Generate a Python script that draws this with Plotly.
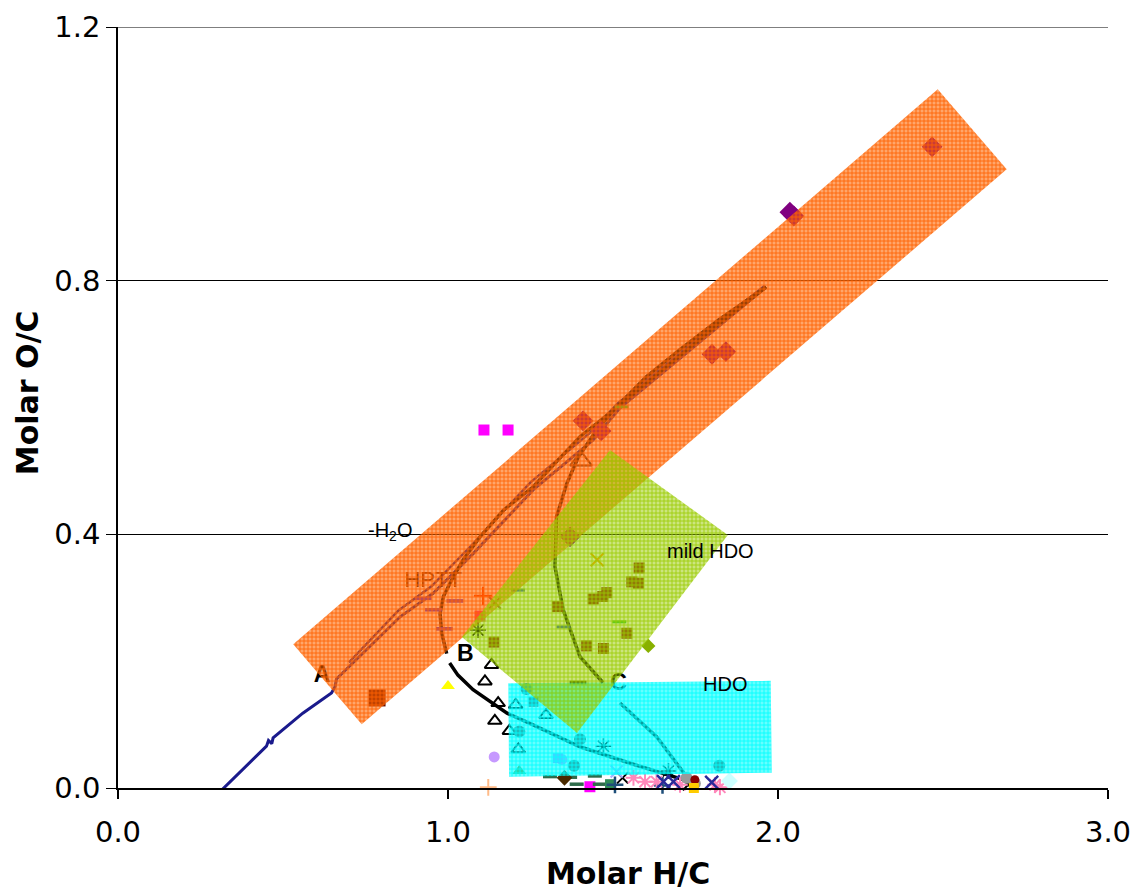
import plotly.graph_objects as go

# ---------------- regions (data coordinates) ----------------
orange_x = [0.531, 2.484, 2.693, 0.7385, 0.531]
orange_y = [0.2266, 1.1017, 0.9756, 0.1004, 0.2266]
green_x = [1.042, 1.491, 1.848, 1.391, 1.042]
green_y = [0.238, 0.533, 0.399, 0.0867, 0.238]
cyan_x = [1.183, 1.978, 1.981, 1.185, 1.183]
cyan_y = [0.165, 0.169, 0.0241, 0.0178, 0.165]

# ---------------- reaction paths ----------------
pathA_x = [0.299, 0.380, 0.450, 0.456, 0.466, 0.470, 0.560, 0.647, 0.658, 0.662, 0.760, 0.855,
           0.955, 1.077, 1.258, 1.440, 1.521, 1.663, 1.814, 1.964]
pathA_y = [-0.011, 0.031, 0.066, 0.075, 0.070, 0.079, 0.118, 0.150, 0.160, 0.172, 0.222, 0.270,
           0.307, 0.370, 0.470, 0.549, 0.599, 0.660, 0.725, 0.790]
pathA2_x = [0.700, 0.850, 0.950, 1.070, 1.250, 1.430, 1.515, 1.660, 1.810, 1.960]
pathA2_y = [0.198, 0.280, 0.318, 0.382, 0.482, 0.560, 0.607, 0.667, 0.731, 0.792]

pathB_x = [0.996, 0.981, 0.976, 0.986, 1.011, 1.046, 1.097, 1.168, 1.258, 1.400, 1.511, 1.663, 1.814, 1.964]
pathB_y = [0.212, 0.244, 0.275, 0.302, 0.328, 0.360, 0.396, 0.438, 0.475, 0.554, 0.600, 0.664, 0.729, 0.790]

pathC_x = [1.470, 1.400, 1.349, 1.324, 1.329, 1.360, 1.395, 1.450, 1.511, 1.600, 1.700, 1.820, 1.964]
pathC_y = [0.166, 0.207, 0.281, 0.349, 0.428, 0.480, 0.522, 0.564, 0.601, 0.648, 0.690, 0.738, 0.790]

pathBdown_x = [1.005, 1.030, 1.076, 1.179, 1.248, 1.400, 1.552, 1.673, 1.733]
pathBdown_y = [0.197, 0.178, 0.155, 0.118, 0.102, 0.065, 0.039, 0.020, 0.010]

pathCdown_x = [1.521, 1.632, 1.723]
pathCdown_y = [0.134, 0.081, 0.018]

# ---------------- data points ----------------
diam_x = [2.467, 1.800, 1.842, 1.409, 1.464, 2.036, 2.048, 1.370]
diam_y = [1.011, 0.684, 0.688, 0.579, 0.563, 0.908, 0.902, 0.396]

sq_x = [1.579, 1.557, 1.577, 1.481, 1.469, 1.440, 1.332, 1.542, 1.420, 1.471, 1.139]
sq_y = [0.347, 0.325, 0.323, 0.308, 0.302, 0.298, 0.286, 0.244, 0.224, 0.220, 0.230]
bigsq_x = [0.785]
bigsq_y = [0.142]

mag_x = [1.109, 1.182, 1.430]
mag_y = [0.5645, 0.5645, 0.002]

tri_x = [1.132, 1.112, 1.152, 1.142, 1.186, 1.205, 1.297, 1.213]
tri_y = [0.194, 0.168, 0.134, 0.106, 0.090, 0.131, 0.115, 0.061]
bigtri_x = [1.403]
bigtri_y = [0.516]

yel_x = [1.000]
yel_y = [0.161]

grayc_x = [1.216, 1.400, 1.382, 1.822, 1.238]
grayc_y = [0.089, 0.077, 0.035, 0.035, 0.156]
graysq_x = [1.259]
graysq_y = [0.136]

olivetri_x = [1.216]
olivetri_y = [0.027]

ast_x = [1.471, 1.668, 1.091]
ast_y = [0.066, 0.027, 0.249]

orx_x = [1.452]
orx_y = [0.360]
redplus_x = [1.106]
redplus_y = [0.303]
brx_x = [1.142]
brx_y = [0.292]
pinksq_x = [1.097]
pinksq_y = [0.271]

purdash_x = [1.021, 0.956, 0.989, 0.925]
purdash_y = [0.295, 0.281, 0.251, 0.299]
bluedash_x = [1.350, 1.212]
bluedash_y = [0.254, 0.312]
grdash_x = [1.519, 1.526]
grdash_y = [0.262, 0.601]
grdiam_x = [1.607]
grdiam_y = [0.224]
dkdash_x = [1.394]
dkdash_y = [0.166]

botdash_x = [1.309, 1.370, 1.390, 1.460, 1.445]
botdash_y = [0.018, 0.017, 0.006, 0.006, 0.019]
brdiam_x = [1.353]
brdiam_y = [0.016]
seasq_x = [1.491]
seasq_y = [0.006]
navyplus_x = [1.506, 1.650]
navyplus_y = [0.005, 0.004]
blkx_x = [1.529, 1.728]
blkx_y = [0.016, 0.005]
pinkast_x = [1.562, 1.597, 1.632, 1.703, 1.824, 1.809]
pinkast_y = [0.016, 0.010, 0.010, 0.005, 0.001, 0.005]
navyx_x = [1.653, 1.683, 1.799]
navyx_y = [0.010, 0.010, 0.009]
lavx_x = [1.511]
lavx_y = [0.026]
grc_x = [1.723, 1.748]
grc_y = [0.016, 0.007]
redc_x = [1.748]
redc_y = [0.013]
goldsq_x = [1.745]
goldsq_y = [0.000]
lcdiam_x = [1.853]
lcdiam_y = [0.011]
peach_x = [1.122]
peach_y = [0.001]
lavc_x = [1.140, 1.345]
lavc_y = [0.049, 0.045]
lavsq_x = [1.333]
lavsq_y = [0.047]

# ---------------- labels ----------------
label_A = (0.618, 0.177)
label_C = (1.517, 0.164)
label_HPTT = (0.955, 0.325)

fig = go.Figure()

def line(x, y, color, w):
    fig.add_trace(go.Scatter(x=x, y=y, mode="lines", line=dict(color=color, width=w),
                             hoverinfo="skip", showlegend=False))

def pts(x, y, symbol, color, size, lw=0, lc=None):
    fig.add_trace(go.Scatter(x=x, y=y, mode="markers",
                             marker=dict(symbol=symbol, color=color, size=size,
                                         line=dict(width=lw, color=lc if lc else color)),
                             cliponaxis=False, hoverinfo="skip", showlegend=False))

def txt(pos, s, color, size):
    fig.add_trace(go.Scatter(x=[pos[0]], y=[pos[1]], mode="text", text=[s],
                             textfont=dict(family="Liberation Sans", size=size, color=color),
                             cliponaxis=False, hoverinfo="skip", showlegend=False))

line(pathA_x, pathA_y, "#1a1a8c", 3)
line(pathA2_x, pathA2_y, "#1a1a8c", 2.5)
line(pathB_x, pathB_y, "#111111", 3.5)
line(pathC_x, pathC_y, "#111111", 3.5)
line(pathBdown_x, pathBdown_y, "#000000", 3.5)
line(pathCdown_x, pathCdown_y, "#111111", 3.5)

pts(diam_x, diam_y, "diamond", "#800080", 16)
pts(sq_x, sq_y, "square", "#8a2a10", 11)
pts(bigsq_x, bigsq_y, "square", "#6a1000", 17)
pts(mag_x, mag_y, "square", "#ff00ff", 11)
pts(tri_x, tri_y, "triangle-up-open", "#000000", 12, 2)
pts(bigtri_x, bigtri_y, "triangle-up-open", "#3a2a20", 19, 2)
pts(yel_x, yel_y, "triangle-up", "#ffff00", 12)
pts(grayc_x, grayc_y, "circle", "#4a5a5a", 12)
pts(graysq_x, graysq_y, "square", "#4a5a5a", 10)
pts(olivetri_x, olivetri_y, "triangle-up", "#669933", 12)
pts(ast_x, ast_y, "asterisk-open", "#000000", 13, 1.5)
pts(orx_x, orx_y, "x-thin-open", "#ff9900", 13, 2)
pts(redplus_x, redplus_y, "cross-thin-open", "#ff3300", 13, 2)
pts(brx_x, brx_y, "x-thin-open", "#8a5a3a", 12, 2)
pts(pinksq_x, pinksq_y, "square", "#ff2a80", 11)
pts(purdash_x, purdash_y, "line-ew-open", "#5a2ad0", 12, 3.5)
pts(bluedash_x, bluedash_y, "line-ew-open", "#3366aa", 10, 3)
pts(grdash_x, grdash_y, "line-ew-open", "#33cc33", 10, 3)
pts(grdiam_x, grdiam_y, "diamond", "#88b000", 11)
pts(dkdash_x, dkdash_y, "line-ew-open", "#333300", 12, 4)
pts(botdash_x, botdash_y, "line-ew-open", "#2e6b4a", 10, 3.5)
pts(brdiam_x, brdiam_y, "diamond", "#4a2a00", 12)
pts(seasq_x, seasq_y, "square", "#2e8b57", 10)
pts(navyplus_x, navyplus_y, "cross-thin-open", "#1f4f7a", 12, 2.5)
pts(blkx_x, blkx_y, "x-thin-open", "#000000", 11, 2)
pts(pinkast_x, pinkast_y, "asterisk-open", "#ff88bb", 13, 2)
pts(navyx_x, navyx_y, "x-thin-open", "#2a2a99", 13, 2.5)
pts(lavx_x, lavx_y, "x-thin-open", "#aab0ff", 12, 2)
pts(grc_x, grc_y, "circle", "#999999", 12)
pts(redc_x, redc_y, "circle", "#8b0000", 9)
pts(goldsq_x, goldsq_y, "square", "#ffcc00", 10)
pts(lcdiam_x, lcdiam_y, "diamond", "#ccffff", 13)
pts(peach_x, peach_y, "cross-thin-open", "#ffbb88", 12, 2)
pts(lavc_x, lavc_y, "circle", "#c699ff", 11)
pts(lavsq_x, lavsq_y, "square", "#9999ff", 10)

# labels drawn under the shaded regions
txt(label_A, "<b>A</b>", "#000000", 23)
txt(label_C, "<b>C</b>", "#000000", 23)
txt(label_HPTT, "HPTT", "#3a1000", 22)

def region(x, y, fg, bg):
    fig.add_trace(go.Scatter(x=x, y=y, mode="lines", fill="toself",
                             line=dict(width=0, color=bg), fillcolor=bg,
                             fillpattern=dict(shape="+", size=4, solidity=0.4,
                                              fgcolor=fg, bgcolor=bg, fillmode="replace"),
                             hoverinfo="skip", showlegend=False))

region(orange_x, orange_y, "rgba(255,95,0,0.95)", "rgba(255,102,0,0.58)")
region(cyan_x, cyan_y, "rgba(0,255,255,0.95)", "rgba(0,255,255,0.6)")
region(green_x, green_y, "rgba(153,204,0,0.9)", "rgba(153,204,0,0.5)")

fig.add_shape(type="line", xref="paper", yref="y", x0=0, x1=1, y0=1.2, y1=1.2,
              line=dict(color="black", width=1), layer="below")

ann_font = dict(family="Liberation Sans", size=20, color="black")
fig.add_annotation(x=0.824, y=0.405, text="-H<sub>2</sub>O", showarrow=False, font=ann_font)
fig.add_annotation(x=1.054, y=0.213, text="<b>B</b>", showarrow=False,
                   font=dict(family="Liberation Sans", size=23, color="black"))
fig.add_annotation(x=1.794, y=0.374, text="mild HDO", showarrow=False, font=ann_font)
fig.add_annotation(x=1.839, y=0.164, text="HDO", showarrow=False, font=ann_font)

title_font = dict(family="DejaVu Sans", size=30, color="black")
fig.add_annotation(xref="paper", yref="paper", x=0.515, y=-0.113, text="<b>Molar H/C</b>",
                   showarrow=False, font=title_font, yanchor="middle")
fig.add_annotation(xref="paper", yref="paper", x=-0.092, y=0.52, text="<b>Molar O/C</b>",
                   showarrow=False, font=title_font, textangle=-90, xanchor="center")

tick_font = dict(family="DejaVu Sans", size=29, color="black")
fig.update_xaxes(range=[0, 3], tickvals=[0, 1, 2, 3], tickformat=".1f", showline=True,
                 linecolor="black", linewidth=2, ticks="outside", ticklen=9, tickwidth=1.5,
                 tickcolor="black", showgrid=False, zeroline=False, tickfont=tick_font,
                 ticklabelstandoff=8, automargin=False)
fig.update_yaxes(range=[0, 1.2], tickvals=[0, 0.4, 0.8, 1.2], tickformat=".1f", showline=True,
                 linecolor="black", linewidth=1.5, ticks="outside", ticklen=10, tickwidth=1,
                 tickcolor="black", showgrid=True, gridcolor="black", gridwidth=1,
                 zeroline=False, tickfont=tick_font, automargin=False)

fig.update_layout(width=1135, height=896, margin=dict(l=118, r=27, t=27, b=108, autoexpand=False),
                  plot_bgcolor="white", paper_bgcolor="white", showlegend=False)

fig.write_html("out.html", config={"displayModeBar": False},
               post_script="document.body.style.margin='0px';")
